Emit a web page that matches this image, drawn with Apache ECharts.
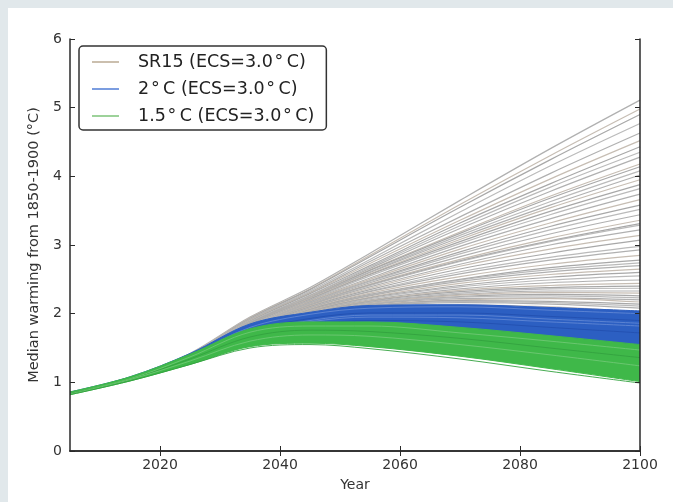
<!DOCTYPE html>
<html>
<head>
<meta charset="utf-8">
<script src="https://cdn.jsdelivr.net/npm/echarts@6/dist/echarts.min.js"></script>
<style>
  html, body { margin: 0; padding: 0; background: #e1e8eb; }
  #panel { position: absolute; left: 8px; top: 8px; width: 665px; height: 494px; background: #ffffff; }
  #chart { position: absolute; left: 0; top: 0; width: 673px; height: 502px; }
</style>
</head>
<body>
<div id="panel"></div>
<div id="chart"></div>
<script>
// ---------- data ----------
const YEARS = [2005, 2015, 2025, 2035, 2045, 2055, 2070, 2085, 2100];
const X_TICKS = [2020, 2040, 2060, 2080, 2100];
const LEGEND_NAMES = ['SR15 (ECS=3.0\u200A°\u2009C)', '2\u200A°\u2009C (ECS=3.0\u200A°\u2009C)', '1.5\u200A°\u2009C (ECS=3.0\u200A°\u2009C)'];

// SR15 pathways (grey)
const SR15_LINES = [
  [0.84, 1.05, 1.42, 1.95, 2.38, 2.88, 3.65, 4.40, 5.11],
  [0.84, 1.05, 1.41, 1.94, 2.36, 2.85, 3.59, 4.30, 4.98],
  [0.85, 1.05, 1.41, 1.93, 2.35, 2.83, 3.55, 4.24, 4.90],
  [0.84, 1.05, 1.41, 1.92, 2.33, 2.79, 3.48, 4.15, 4.77],
  [0.84, 1.04, 1.40, 1.91, 2.31, 2.76, 3.41, 4.04, 4.63],
  [0.84, 1.05, 1.40, 1.90, 2.30, 2.73, 3.36, 3.96, 4.52],
  [0.85, 1.05, 1.39, 1.89, 2.29, 2.70, 3.32, 3.89, 4.43],
  [0.84, 1.05, 1.39, 1.88, 2.27, 2.68, 3.28, 3.84, 4.35],
  [0.84, 1.04, 1.39, 1.87, 2.26, 2.66, 3.24, 3.78, 4.28],
  [0.84, 1.05, 1.38, 1.86, 2.25, 2.64, 3.19, 3.71, 4.18],
  [0.84, 1.04, 1.38, 1.86, 2.24, 2.63, 3.17, 3.68, 4.14],
  [0.84, 1.05, 1.38, 1.85, 2.24, 2.61, 3.14, 3.63, 4.08],
  [0.84, 1.04, 1.37, 1.85, 2.23, 2.60, 3.11, 3.58, 4.02],
  [0.84, 1.04, 1.38, 1.84, 2.22, 2.58, 3.08, 3.54, 3.95],
  [0.84, 1.05, 1.37, 1.84, 2.21, 2.57, 3.05, 3.49, 3.88],
  [0.84, 1.05, 1.37, 1.83, 2.20, 2.55, 3.02, 3.44, 3.82],
  [0.84, 1.04, 1.36, 1.82, 2.19, 2.52, 2.98, 3.38, 3.74],
  [0.84, 1.04, 1.36, 1.81, 2.18, 2.50, 2.94, 3.32, 3.66],
  [0.84, 1.04, 1.36, 1.80, 2.17, 2.48, 2.90, 3.27, 3.58],
  [0.84, 1.04, 1.36, 1.80, 2.16, 2.47, 2.87, 3.22, 3.52],
  [0.84, 1.04, 1.35, 1.79, 2.15, 2.45, 2.83, 3.16, 3.44],
  [0.84, 1.05, 1.35, 1.79, 2.14, 2.43, 2.79, 3.10, 3.36],
  [0.84, 1.04, 1.35, 1.78, 2.13, 2.42, 2.77, 3.06, 3.31],
  [0.84, 1.04, 1.35, 1.78, 2.13, 2.41, 2.76, 3.05, 3.29],
  [0.84, 1.04, 1.35, 1.77, 2.12, 2.39, 2.72, 3.00, 3.22],
  [0.84, 1.04, 1.34, 1.76, 2.11, 2.37, 2.69, 2.94, 3.14],
  [0.84, 1.04, 1.34, 1.76, 2.10, 2.35, 2.65, 2.88, 3.07],
  [0.84, 1.04, 1.34, 1.75, 2.09, 2.33, 2.61, 2.82, 2.98],
  [0.84, 1.04, 1.34, 1.75, 2.08, 2.32, 2.58, 2.78, 2.93],
  [0.84, 1.04, 1.34, 1.74, 2.07, 2.30, 2.54, 2.72, 2.85],
  [0.84, 1.04, 1.33, 1.73, 2.06, 2.28, 2.50, 2.67, 2.78],
  [0.84, 1.04, 1.33, 1.73, 2.05, 2.27, 2.49, 2.64, 2.74],
  [0.84, 1.04, 1.33, 1.72, 2.05, 2.26, 2.47, 2.61, 2.70],
  [0.84, 1.04, 1.32, 1.72, 2.04, 2.24, 2.44, 2.57, 2.65],
  [0.84, 1.04, 1.32, 1.71, 2.03, 2.23, 2.41, 2.53, 2.60],
  [0.84, 1.04, 1.32, 1.71, 2.02, 2.22, 2.39, 2.49, 2.55],
  [0.84, 1.04, 1.32, 1.70, 2.02, 2.20, 2.36, 2.45, 2.49],
  [0.84, 1.04, 1.32, 1.70, 2.01, 2.19, 2.34, 2.41, 2.44],
  [0.84, 1.04, 1.31, 1.70, 2.00, 2.18, 2.32, 2.38, 2.40],
  [0.84, 1.04, 1.31, 1.69, 1.99, 2.17, 2.30, 2.36, 2.37],
  [0.84, 1.04, 1.31, 1.69, 2.00, 2.16, 2.28, 2.33, 2.33],
  [0.84, 1.04, 1.31, 1.69, 1.99, 2.15, 2.27, 2.31, 2.30],
  [0.84, 1.04, 1.31, 1.68, 1.98, 2.14, 2.25, 2.28, 2.26],
  [0.84, 1.04, 1.31, 1.68, 1.98, 2.14, 2.24, 2.26, 2.23],
  [0.84, 1.04, 1.31, 1.68, 1.97, 2.13, 2.22, 2.23, 2.20],
  [0.84, 1.04, 1.30, 1.67, 1.96, 2.12, 2.20, 2.22, 2.17],
  [0.84, 1.04, 1.30, 1.67, 1.97, 2.11, 2.19, 2.18, 2.14],
  [0.84, 1.04, 1.30, 1.67, 1.96, 2.11, 2.18, 2.16, 2.11],
  [0.84, 1.04, 1.30, 1.67, 1.96, 2.10, 2.16, 2.14, 2.08],
  [0.84, 1.04, 1.30, 1.66, 1.95, 2.08, 2.13, 2.10, 2.03]
];

// 2 °C pathways (blue): upper envelope and a few individual lines
const BLUE_HIGH = [0.86, 1.08, 1.42, 1.85, 2.02, 2.12, 2.13, 2.09, 2.04];
const BLUE_LINES = [
  [0.84, 1.05, 1.39, 1.80, 1.99, 2.08, 2.10, 2.05, 2.00],
  [0.84, 1.04, 1.36, 1.74, 1.93, 2.01, 2.01, 1.96, 1.90],
  [0.83, 1.04, 1.34, 1.70, 1.88, 1.95, 1.94, 1.88, 1.82],
  [0.83, 1.03, 1.32, 1.66, 1.84, 1.90, 1.88, 1.80, 1.72],
  [0.84, 1.04, 1.35, 1.72, 1.90, 1.98, 1.98, 1.92, 1.86]
];

// 1.5 °C pathways (green): envelope and a few individual lines
const GREEN_LOW  = [0.82, 1.02, 1.26, 1.52, 1.57, 1.52, 1.38, 1.20, 1.01];
const GREEN_HIGH = [0.86, 1.08, 1.41, 1.78, 1.88, 1.88, 1.80, 1.68, 1.55];
const GREEN_LINES = [
  [0.84, 1.05, 1.37, 1.73, 1.82, 1.82, 1.72, 1.60, 1.47],
  [0.84, 1.04, 1.34, 1.66, 1.76, 1.74, 1.64, 1.50, 1.36],
  [0.83, 1.04, 1.31, 1.60, 1.69, 1.67, 1.55, 1.40, 1.24],
  [0.82, 1.02, 1.26, 1.50, 1.55, 1.49, 1.34, 1.16, 0.99]
];

// ---------- styling ----------
const FONT = 'DejaVu Sans';
const AX = '#2a2a2a';
const GREY_COLORS = ['#acacac', '#c3b9af', '#a3a3a3', '#b6b6b6'];
const BLUE = '#2c5fc2';
const GREEN = '#3fb849';
const BLUE_STREAKS = ['#5f86d4', '#2250b0'];
const GREEN_STREAKS = ['#6ec873', '#33a23f'];
const LEGEND_COLORS = ['#cbbfae', '#7b9de0', '#9dd29a'];

function pairs(ys) { return YEARS.map((x, i) => [x, ys[i]]); }

const series = [];
SR15_LINES.forEach((ys, k) => {
  series.push({
    type: 'line', data: pairs(ys), smooth: 0.35, symbol: 'none', silent: true,
    lineStyle: { color: GREY_COLORS[k % GREY_COLORS.length], width: 1.2, opacity: 0.95 },
    z: 2
  });
});
// blue envelope: filled down to the axis, later masked by green and white
series.push({
  type: 'line', data: pairs(BLUE_HIGH), smooth: 0.35, symbol: 'none', silent: true,
  lineStyle: { color: BLUE, width: 1 }, areaStyle: { color: BLUE, opacity: 1 }, z: 3
});
BLUE_LINES.forEach((ys, k) => {
  series.push({
    type: 'line', data: pairs(ys), smooth: 0.35, symbol: 'none', silent: true,
    lineStyle: { color: BLUE_STREAKS[k % 2], width: 1, opacity: 0.9 }, z: 4
  });
});
series.push({
  type: 'line', data: pairs(GREEN_HIGH), smooth: 0.35, symbol: 'none', silent: true,
  lineStyle: { color: GREEN, width: 1 }, areaStyle: { color: GREEN, opacity: 1 }, z: 5
});
// white below the lowest pathway
series.push({
  type: 'line', data: pairs(GREEN_LOW), smooth: 0.35, symbol: 'none', silent: true,
  lineStyle: { color: GREEN, width: 1 }, areaStyle: { color: '#ffffff', opacity: 1 }, z: 6
});
GREEN_LINES.forEach((ys, k) => {
  series.push({
    type: 'line', data: pairs(ys), smooth: 0.35, symbol: 'none', silent: true,
    lineStyle: { color: GREEN_STREAKS[k % 2], width: 1, opacity: 0.9 }, z: 7
  });
});
LEGEND_NAMES.forEach((name, i) => {
  series.push({ type: 'line', name: name, data: [], color: LEGEND_COLORS[i], symbol: 'none' });
});

const tickStyle = { inside: true, length: 5, lineStyle: { color: AX, width: 1 } };
const yearFmt = v => String(v);
const option = {
  animation: false,
  backgroundColor: 'transparent',
  grid: { left: 70, right: 33, top: 39, bottom: 51 },
  legend: {
    left: 79, top: 46, orient: 'vertical', z: 20,
    data: LEGEND_NAMES,
    icon: 'rect', itemWidth: 27, itemHeight: 2, itemGap: 9,
    padding: [7, 12, 5, 13],
    borderColor: '#333', borderWidth: 1.5, borderRadius: 4,
    backgroundColor: '#ffffff',
    textStyle: { fontFamily: FONT, fontSize: 17.5, color: '#222', lineHeight: 18, padding: [0, 0, 0, 14] },
    selectedMode: false
  },
  xAxis: [
    {
      type: 'value', min: 2005, max: 2100, position: 'bottom', z: 10,
      axisLine: { show: true, lineStyle: { color: AX, width: 1.5 } },
      axisTick: Object.assign({ show: true, customValues: X_TICKS }, tickStyle),
      axisLabel: { customValues: X_TICKS, formatter: yearFmt, fontFamily: FONT, fontSize: 14, color: '#333', margin: 7 },
      splitLine: { show: false },
      name: 'Year', nameLocation: 'middle', nameGap: 27,
      nameTextStyle: { fontFamily: FONT, fontSize: 14, color: '#333' }
    },
    {
      type: 'value', min: 2005, max: 2100, position: 'top', z: 10,
      axisLine: { show: true, lineStyle: { color: AX, width: 1.5 } },
      axisTick: Object.assign({ show: true, customValues: X_TICKS }, tickStyle),
      axisLabel: { show: false }, splitLine: { show: false }
    }
  ],
  yAxis: [
    {
      type: 'value', min: 0, max: 6, interval: 1, position: 'left', z: 10,
      axisLine: { show: true, lineStyle: { color: AX, width: 1.5 } },
      axisTick: Object.assign({ show: true }, tickStyle),
      axisLabel: { fontFamily: FONT, fontSize: 14, color: '#333', margin: 8 },
      splitLine: { show: false },
      name: 'Median warming from 1850-1900 (°C)', nameLocation: 'middle', nameGap: 24,
      nameTextStyle: { fontFamily: FONT, fontSize: 14.5, color: '#333' }
    },
    {
      type: 'value', min: 0, max: 6, interval: 1, position: 'right', z: 10,
      axisLine: { show: true, lineStyle: { color: AX, width: 1.5 } },
      axisTick: Object.assign({ show: true }, tickStyle),
      axisLabel: { show: false }, splitLine: { show: false }
    }
  ],
  series: series
};

const chart = echarts.init(document.getElementById('chart'), null, { renderer: 'canvas' });
chart.setOption(option);
</script>
</body>
</html>
